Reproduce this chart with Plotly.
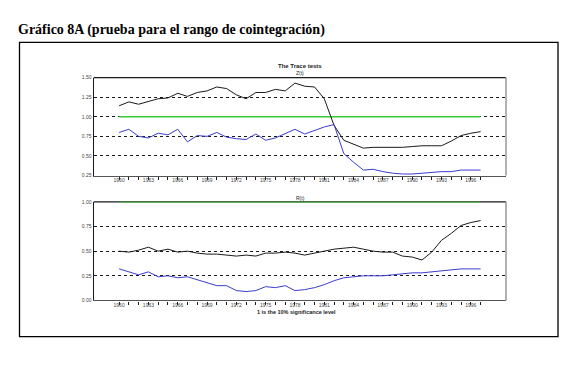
import plotly.graph_objects as go

years = list(range(1960, 1998))

z_black = [1.14, 1.19, 1.16, 1.19, 1.23, 1.24, 1.30, 1.26, 1.31, 1.33,
           1.38, 1.36, 1.28, 1.23, 1.31, 1.31, 1.35, 1.33, 1.43, 1.39,
           1.38, 1.23, 0.89, 0.70, 0.65, 0.60, 0.61, 0.61, 0.61, 0.61,
           0.62, 0.63, 0.63, 0.63, 0.69, 0.76, 0.79, 0.81]
z_blue = [0.80, 0.84, 0.75, 0.73, 0.79, 0.77, 0.84, 0.68, 0.76, 0.75,
          0.80, 0.74, 0.72, 0.71, 0.78, 0.70, 0.73, 0.78, 0.84, 0.78,
          0.82, 0.87, 0.90, 0.53, 0.42, 0.32, 0.33, 0.30, 0.28, 0.27,
          0.27, 0.28, 0.29, 0.30, 0.30, 0.32, 0.32, 0.32]
r_black = [0.50, 0.49, 0.51, 0.54, 0.50, 0.52, 0.49, 0.50, 0.48, 0.47,
           0.47, 0.46, 0.45, 0.46, 0.45, 0.48, 0.48, 0.49, 0.48, 0.46,
           0.48, 0.50, 0.52, 0.53, 0.54, 0.52, 0.50, 0.49, 0.49, 0.45,
           0.44, 0.41, 0.49, 0.61, 0.68, 0.76, 0.79, 0.81]
r_blue = [0.32, 0.29, 0.26, 0.29, 0.24, 0.25, 0.23, 0.24, 0.21, 0.18,
          0.15, 0.15, 0.10, 0.09, 0.10, 0.14, 0.13, 0.15, 0.10, 0.11,
          0.13, 0.16, 0.20, 0.23, 0.24, 0.25, 0.25, 0.25, 0.26, 0.27,
          0.28, 0.28, 0.29, 0.30, 0.31, 0.32, 0.32, 0.32]
critical = [1.0] * len(years)

x_tickvals = years
x_ticktext = [str(y) if (y - 1960) % 3 == 0 else "" for y in years]
z_ticks = [0.25, 0.50, 0.75, 1.00, 1.25, 1.50]
r_ticks = [0.00, 0.25, 0.50, 0.75, 1.00]

BLACK = "#1a1a1a"
BLUE = "#3b3bd0"
GREEN = "#33cc33"

fig = go.Figure()
for xa, ya, blk, blu in (("x", "y", z_black, z_blue), ("x2", "y2", r_black, r_blue)):
    fig.add_trace(go.Scatter(x=years, y=critical, xaxis=xa, yaxis=ya, mode="lines",
                             line=dict(color=GREEN, width=1.5), showlegend=False, cliponaxis=False))
    fig.add_trace(go.Scatter(x=years, y=blk, xaxis=xa, yaxis=ya, mode="lines",
                             line=dict(color=BLACK, width=1), showlegend=False))
    fig.add_trace(go.Scatter(x=years, y=blu, xaxis=xa, yaxis=ya, mode="lines",
                             line=dict(color=BLUE, width=1), showlegend=False))

W, H = 575, 365
def px(v): return v / W
def py(v): return 1 - v / H

tickfont = dict(family="Liberation Sans", size=5, color="#444")
xcommon = dict(range=[1957.4, 1999.6], tickvals=x_tickvals, ticktext=x_ticktext,
               ticks="outside", ticklen=3, tickcolor=BLACK, tickwidth=1,
               showline=True, linecolor="#555", linewidth=1.2,
               showgrid=False, zeroline=False, tickfont=tickfont, tickangle=0,
               ticklabelstandoff=-4)
ycommon = dict(showline=True, linecolor=BLACK, linewidth=1.2, ticks="",
               showgrid=True, gridcolor=BLACK, griddash="dot", gridwidth=1,
               zeroline=False, tickfont=tickfont, tickformat=".2f")

fig.update_layout(
    width=W, height=H, margin=dict(l=0, r=0, t=0, b=0),
    paper_bgcolor="white", plot_bgcolor="white",
    xaxis=dict(domain=[px(85.7), px(498)], anchor="y", **xcommon),
    yaxis=dict(domain=[py(167.3), py(67.7)], anchor="x", range=[0.25, 1.5],
               tickvals=z_ticks, **ycommon),
    xaxis2=dict(domain=[px(85.7), px(498)], anchor="y2", **xcommon),
    yaxis2=dict(domain=[py(294.3), py(194)], anchor="x2", range=[0.0, 1.0],
                tickvals=r_ticks, **ycommon),
)

shapes = [
    dict(type="rect", xref="paper", yref="paper", x0=px(11.5), x1=px(550),
         y0=py(331), y1=py(32), line=dict(color="black", width=1.3)),
]
for d in ("", "2"):
    xr, yr = f"x{d} domain", f"y{d} domain"
    shapes.append(dict(type="line", xref=xr, yref=yr, x0=0, x1=1, y0=1, y1=1, layer="below",
                       line=dict(color=BLACK, width=1.2)))
    shapes.append(dict(type="line", xref=xr, yref=yr, x0=1, x1=1, y0=0, y1=1,
                       line=dict(color="#999", width=1.5)))
fig.update_layout(shapes=shapes)

small = dict(family="Liberation Sans", size=5, color="#222")
fig.update_layout(annotations=[
    dict(text="<b>Gráfico 8A (prueba para el rango de cointegración)</b>", xref="paper", yref="paper",
         x=px(8), y=py(19), xanchor="left", yanchor="middle", showarrow=False,
         font=dict(family="Liberation Serif", size=14, color="black")),
    dict(text="<b>The Trace tests</b>", xref="paper", yref="paper", x=px(292), y=py(56),
         xanchor="center", yanchor="middle", showarrow=False, font=dict(family="Liberation Sans", size=6, color="#222")),
    dict(text="Z(t)", xref="paper", yref="paper", x=px(292), y=py(63.5),
         xanchor="center", yanchor="middle", showarrow=False, font=small),
    dict(text="R(t)", xref="paper", yref="paper", x=px(292), y=py(190),
         xanchor="center", yanchor="middle", showarrow=False, font=small),
    dict(text="<b>1 is the 10% significance level</b>", xref="paper", yref="paper", x=px(288), y=py(306.5),
         xanchor="center", yanchor="middle", showarrow=False, font=dict(family="Liberation Sans", size=5.5, color="#222")),
])

fig.write_html("out.html")
